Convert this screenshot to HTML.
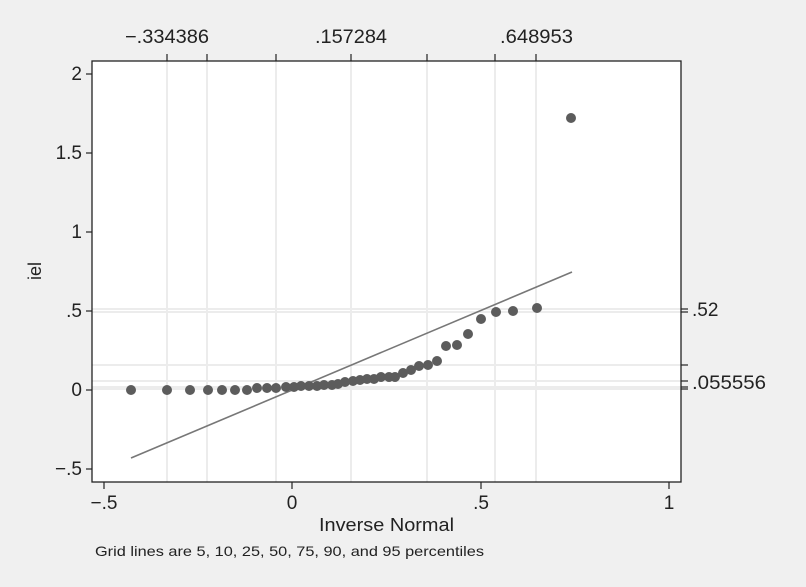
<!DOCTYPE html>
<html><head><style>body{margin:0;background:#f0f0f0}svg{display:block;font-family:"Liberation Sans",sans-serif}</style></head>
<body>
<svg width="806" height="587" viewBox="0 0 806 587">
<rect width="806" height="587" fill="#f0f0f0"/>
<rect x="92" y="61" width="589" height="421" fill="#fff"/>
<g stroke="#ececec" stroke-width="2">
<line x1="167" y1="61" x2="167" y2="482"/><line x1="207" y1="61" x2="207" y2="482"/>
<line x1="276" y1="61" x2="276" y2="482"/><line x1="351" y1="61" x2="351" y2="482"/>
<line x1="427" y1="61" x2="427" y2="482"/><line x1="495" y1="61" x2="495" y2="482"/>
<line x1="536" y1="61" x2="536" y2="482"/>
<line x1="92" y1="309" x2="681" y2="309"/><line x1="92" y1="312" x2="681" y2="312"/>
<line x1="92" y1="365" x2="681" y2="365"/><line x1="92" y1="381" x2="681" y2="381"/>
<line x1="92" y1="387" x2="681" y2="387"/><line x1="92" y1="389" x2="681" y2="389"/>
</g>
<rect x="92" y="61" width="589" height="421" fill="none" stroke="#222" stroke-width="1.3"/>
<g stroke="#222" stroke-width="1.2">
<line x1="86" y1="74" x2="92" y2="74"/><line x1="86" y1="153" x2="92" y2="153"/><line x1="86" y1="232" x2="92" y2="232"/>
<line x1="86" y1="311" x2="92" y2="311"/><line x1="86" y1="390" x2="92" y2="390"/><line x1="86" y1="469" x2="92" y2="469"/>
<line x1="104" y1="482" x2="104" y2="489"/><line x1="292" y1="482" x2="292" y2="489"/><line x1="481" y1="482" x2="481" y2="489"/><line x1="669" y1="482" x2="669" y2="489"/>
<line x1="167" y1="54" x2="167" y2="61"/><line x1="207" y1="54" x2="207" y2="61"/><line x1="276" y1="54" x2="276" y2="61"/>
<line x1="351" y1="54" x2="351" y2="61"/><line x1="427" y1="54" x2="427" y2="61"/><line x1="495" y1="54" x2="495" y2="61"/><line x1="536" y1="54" x2="536" y2="61"/>
<line x1="681" y1="309" x2="688" y2="309"/><line x1="681" y1="312" x2="688" y2="312"/><line x1="681" y1="365" x2="688" y2="365"/>
<line x1="681" y1="381" x2="688" y2="381"/><line x1="681" y1="387" x2="688" y2="387"/><line x1="681" y1="389" x2="688" y2="389"/>
</g>
<g font-size="19" fill="#222" text-anchor="end">
<text x="82" y="80">2</text><text x="82" y="159">1.5</text><text x="82" y="238">1</text>
<text x="82" y="317">.5</text><text x="82" y="396">0</text><text x="82" y="475">−.5</text>
</g>
<g font-size="19" fill="#222" text-anchor="middle">
<text x="104" y="509">−.5</text><text x="292" y="509">0</text><text x="481" y="509">.5</text><text x="669" y="509">1</text>
</g>
<g font-size="19" fill="#222">
<text x="125" y="43" textLength="84" lengthAdjust="spacingAndGlyphs">−.334386</text>
<text x="315" y="43" textLength="72" lengthAdjust="spacingAndGlyphs">.157284</text>
<text x="500" y="43" textLength="73" lengthAdjust="spacingAndGlyphs">.648953</text>
<text x="319" y="531" font-size="18" textLength="135" lengthAdjust="spacingAndGlyphs">Inverse Normal</text>
<text x="692" y="316">.52</text><text x="692" y="389" textLength="74" lengthAdjust="spacingAndGlyphs">.055556</text>
</g>
<text x="95" y="556" font-size="14" fill="#222" textLength="389" lengthAdjust="spacingAndGlyphs">Grid lines are 5, 10, 25, 50, 75, 90, and 95 percentiles</text>
<text transform="translate(41,271) rotate(-90)" font-size="18" fill="#222" text-anchor="middle">iel</text>
<line x1="131" y1="458" x2="572" y2="272" stroke="#777" stroke-width="1.6"/>
<g fill="#5c5c5c">
<circle cx="131" cy="390" r="5"/><circle cx="167" cy="390" r="5"/><circle cx="190" cy="390" r="5"/><circle cx="208" cy="390" r="5"/>
<circle cx="222" cy="390" r="5"/><circle cx="235" cy="390" r="5"/><circle cx="247" cy="390" r="5"/><circle cx="257" cy="388" r="5"/>
<circle cx="267" cy="388" r="5"/><circle cx="276" cy="388" r="5"/><circle cx="286" cy="387" r="5"/><circle cx="294" cy="387" r="5"/>
<circle cx="301" cy="386" r="5"/><circle cx="309" cy="386" r="5"/><circle cx="317" cy="386" r="5"/><circle cx="324" cy="385" r="5"/>
<circle cx="332" cy="385" r="5"/><circle cx="338" cy="384" r="5"/><circle cx="345" cy="382" r="5"/><circle cx="353" cy="381" r="5"/>
<circle cx="360" cy="380" r="5"/><circle cx="367" cy="379" r="5"/><circle cx="374" cy="379" r="5"/><circle cx="381" cy="377" r="5"/>
<circle cx="389" cy="377" r="5"/><circle cx="395" cy="377" r="5"/><circle cx="403" cy="373" r="5"/><circle cx="411" cy="370" r="5"/>
<circle cx="419" cy="366" r="5"/><circle cx="428" cy="365" r="5"/><circle cx="437" cy="361" r="5"/><circle cx="446" cy="346" r="5"/>
<circle cx="457" cy="345" r="5"/><circle cx="468" cy="334" r="5"/><circle cx="481" cy="319" r="5"/><circle cx="496" cy="312" r="5"/>
<circle cx="513" cy="311" r="5"/><circle cx="537" cy="308" r="5"/><circle cx="571" cy="118" r="5"/>
</g>
</svg>
</body></html>
